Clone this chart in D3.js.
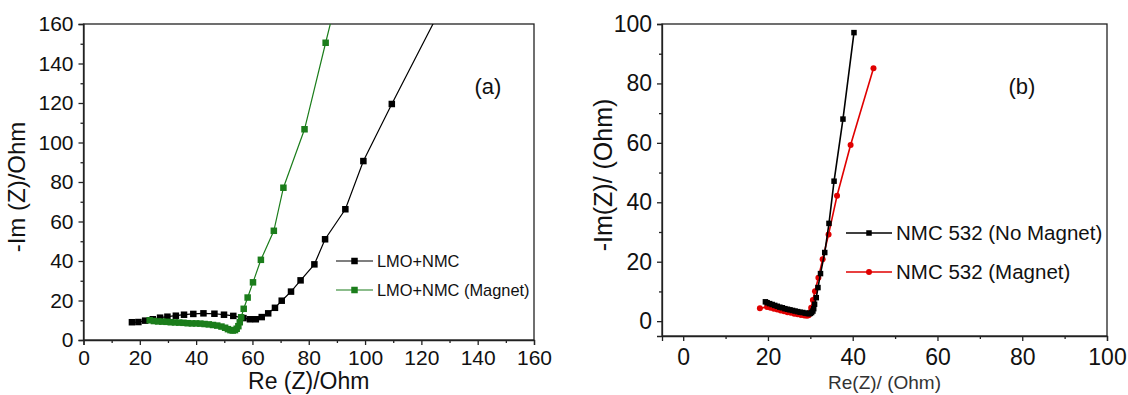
<!DOCTYPE html>
<html>
<head lang="en">
  <meta charset="UTF-8">
  <title>Impedance spectra</title>
</head>
<style>
  body { margin: 0; background: #fff; }
  svg text { font-family: "Liberation Sans", Arial, sans-serif; fill: #111; }
  .axis path, .axis line { stroke: #222; stroke-width: 1.3; }
  .frame { fill: none; stroke: #222; stroke-width: 1.3; }
</style>
<body>

<svg id="chart" width="1128" height="395"></svg>

<script src="https://cdn.jsdelivr.net/npm/d3@7"></script>
<script>
  // panel (a)
  var lmoX = [17.2, 19.5, 21.9, 24.6, 27.2, 29.8, 32.8, 35.7, 39.0, 42.6, 46.5, 49.9, 53.2, 56.8, 59.1, 61.2, 63.3, 65.6, 68.0, 70.4, 73.7, 77.1, 82.0, 85.8, 93.0, 99.4, 109.5, 127];
  var lmoY = [9.0, 9.1, 9.8, 10.5, 11.3, 11.8, 12.3, 12.8, 13.2, 13.5, 13.3, 12.8, 12.2, 11.1, 10.5, 10.5, 11.6, 13.5, 16.3, 19.9, 24.5, 30.2, 38.3, 51.0, 66.2, 90.6, 119.5, 168];
  var lmoMagX = [23.5, 25.0, 26.5, 28.0, 29.5, 31.0, 32.5, 34.0, 35.5, 37.0, 38.5, 40.0, 41.5, 43.0, 44.5, 46.0, 47.5, 49.0, 50.3, 51.3, 52.2, 53.0, 53.8, 54.4, 55.0, 55.5, 56.0, 56.9, 58.3, 60.2, 63.0, 67.6, 71.0, 78.5, 86.0, 92];
  var lmoMagY = [10.0, 9.6, 9.4, 9.3, 9.2, 9.0, 8.9, 8.8, 8.7, 8.5, 8.4, 8.4, 8.3, 8.1, 7.9, 7.6, 7.3, 6.8, 6.2, 5.5, 5.0, 4.8, 5.0, 5.7, 7.0, 9.0, 11.5, 15.8, 21.5, 29.2, 40.6, 55.3, 77.1, 106.7, 150.5, 185];

  // panel (b)
  var nmcX = [19.4, 19.8, 20.4, 21.0, 21.6, 22.2, 22.8, 23.4, 24.0, 24.6, 25.2, 25.8, 26.4, 27.0, 27.6, 28.2, 28.8, 29.3, 29.7, 30.0, 30.3, 30.6, 30.8, 31.0, 31.4, 31.8, 32.4, 33.4, 34.4, 35.6, 37.7, 40.3];
  var nmcY = [6.5, 6.2, 5.9, 5.6, 5.3, 5.0, 4.7, 4.5, 4.2, 4.0, 3.8, 3.6, 3.4, 3.2, 3.0, 2.9, 2.7, 2.6, 2.5, 2.6, 2.9, 3.4, 4.2, 5.7, 7.9, 11.3, 16.0, 23.1, 32.9, 47.1, 68.0, 97.1];
  var nmcMagX = [18.1, 19.8, 20.6, 21.4, 22.2, 23.0, 23.8, 24.6, 25.4, 26.2, 27.0, 27.8, 28.6, 29.2, 29.6, 29.9, 30.2, 30.6, 31.1, 31.9, 32.9, 34.3, 36.3, 39.5, 44.9];
  var nmcMagY = [4.3, 4.8, 4.5, 4.2, 3.9, 3.6, 3.3, 3.0, 2.8, 2.5, 2.3, 2.1, 1.9, 1.8, 2.0, 3.0, 4.5, 7.1, 10.1, 14.6, 20.8, 29.2, 42.2, 59.3, 85.1];

  var ticksA = [0, 20, 40, 60, 80, 100, 120, 140, 160];
  var minorA = [10, 30, 50, 70, 90, 110, 130, 150];
  var ticksB = [0, 20, 40, 60, 80, 100];
  var minorB = [10, 30, 50, 70, 90];

  var svg = d3.select('#chart');

  function zip(xs, ys) {
    return xs.map(function (x, i) { return [x, ys[i]]; });
  }

  function panel(o) {
    var x = d3.scaleLinear().domain(o.xDomain).range(o.xRange);
    var y = d3.scaleLinear().domain(o.yDomain).range(o.yRange);
    var g = svg.append('g');

    g.append('clipPath').attr('id', o.id + '-clip')
      .append('rect')
      .attr('x', o.xRange[0]).attr('y', o.yRange[1])
      .attr('width', o.xRange[1] - o.xRange[0])
      .attr('height', o.yRange[0] - o.yRange[1]);

    // axes
    var xa = g.append('g').attr('class', 'axis')
      .attr('transform', 'translate(0,' + o.yRange[0] + ')')
      .call(d3.axisBottom(x).tickValues(o.ticks).tickSize(5).tickPadding(o.xPad));
    xa.selectAll('text').style('font-size', o.tickFont + 'px');
    g.append('g').attr('class', 'axis')
      .attr('transform', 'translate(0,' + o.yRange[0] + ')')
      .call(d3.axisBottom(x).tickValues(o.minor).tickSize(3).tickFormat(''))
      .select('.domain').remove();

    var ya = g.append('g').attr('class', 'axis')
      .attr('transform', 'translate(' + o.xRange[0] + ',0)')
      .call(d3.axisLeft(y).tickValues(o.ticks).tickSize(5).tickPadding(o.yPad));
    ya.selectAll('text').style('font-size', o.tickFont + 'px');
    g.append('g').attr('class', 'axis')
      .attr('transform', 'translate(' + o.xRange[0] + ',0)')
      .call(d3.axisLeft(y).tickValues(o.minor).tickSize(3).tickFormat(''))
      .select('.domain').remove();

    g.append('rect').attr('class', 'frame')
      .attr('x', o.xRange[0]).attr('y', o.yRange[1])
      .attr('width', o.xRange[1] - o.xRange[0])
      .attr('height', o.yRange[0] - o.yRange[1]);

    // titles
    g.append('text')
      .attr('x', (o.xRange[0] + o.xRange[1]) / 2).attr('y', o.xTitleY)
      .attr('text-anchor', 'middle')
      .style('font-size', o.xTitleFont + 'px')
      .style('fill', o.xTitleColor || '#111')
      .text(o.xTitle);
    g.append('text')
      .attr('transform', 'translate(' + o.yTitleX + ',' + o.yTitleMid + ') rotate(-90)')
      .attr('text-anchor', 'middle')
      .style('font-size', o.yTitleFont + 'px')
      .text(o.yTitle);
    g.append('text')
      .attr('x', o.tagX).attr('y', o.tagY)
      .attr('text-anchor', 'middle')
      .style('font-size', '22px')
      .text(o.tag);

    // series
    var plot = g.append('g').attr('clip-path', 'url(#' + o.id + '-clip)');
    var line = d3.line().x(function (d) { return x(d[0]); }).y(function (d) { return y(d[1]); });

    o.series.forEach(function (s) {
      var pts = zip(s.xs, s.ys);
      plot.append('path').datum(pts)
        .attr('d', line)
        .attr('fill', 'none')
        .attr('stroke', s.color)
        .attr('stroke-width', s.width);
      drawMarks(plot, pts.map(function (p) { return [x(p[0]), y(p[1])]; }), s);
    });

    // legend
    o.legend.forEach(function (s, i) {
      var ly = o.legY + i * o.legGap;
      g.append('line')
        .attr('x1', o.legX).attr('x2', o.legX + o.legLen)
        .attr('y1', ly).attr('y2', ly)
        .attr('stroke', s.color).attr('stroke-width', s.width);
      drawMarks(g, [[o.legX + o.legLen / 2, ly]], s);
      g.append('text')
        .attr('x', o.legX + o.legLen + 4).attr('y', ly)
        .attr('dy', '0.35em')
        .style('font-size', o.legFont + 'px')
        .text(s.name);
    });
  }

  function drawMarks(parent, pts, s) {
    if (s.shape === 'circle') {
      parent.selectAll(null).data(pts).enter().append('circle')
        .attr('cx', function (d) { return d[0]; })
        .attr('cy', function (d) { return d[1]; })
        .attr('r', s.size / 2)
        .attr('fill', s.color);
    } else {
      parent.selectAll(null).data(pts).enter().append('rect')
        .attr('x', function (d) { return d[0] - s.size / 2; })
        .attr('y', function (d) { return d[1] - s.size / 2; })
        .attr('width', s.size).attr('height', s.size)
        .attr('fill', s.color);
    }
  }

  var lmo = { name: 'LMO+NMC', xs: lmoX, ys: lmoY, color: '#000', width: 1.2, shape: 'square', size: 6.5 };
  var lmoMag = { name: 'LMO+NMC (Magnet)', xs: lmoMagX, ys: lmoMagY, color: '#1b7d1b', width: 1.2, shape: 'square', size: 6.5 };
  var nmc = { name: 'NMC 532 (No Magnet)', xs: nmcX, ys: nmcY, color: '#000', width: 1.6, shape: 'square', size: 5.5 };
  var nmcMag = { name: 'NMC 532 (Magnet)', xs: nmcMagX, ys: nmcMagY, color: '#e00000', width: 1.6, shape: 'circle', size: 6 };

  panel({
    id: 'a', xDomain: [0, 160], yDomain: [0, 160],
    xRange: [83.5, 534], yRange: [340, 24],
    ticks: ticksA, minor: minorA, tickFont: 21, xPad: 5, yPad: 5,
    xTitle: 'Re (Z)/Ohm', xTitleY: 389, xTitleFont: 23,
    yTitle: '-Im (Z)/Ohm', yTitleX: 25, yTitleMid: 187, yTitleFont: 24,
    tag: '(a)', tagX: 488, tagY: 94,
    series: [lmo, lmoMag], legend: [lmo, lmoMag],
    legX: 336, legY: 261, legGap: 29, legLen: 37, legFont: 16.4
  });

  panel({
    id: 'b', xDomain: [-5, 100], yDomain: [-5, 100],
    xRange: [662, 1107], yRange: [336, 24],
    ticks: ticksB, minor: minorB, tickFont: 23, xPad: 8, yPad: 5,
    xTitle: 'Re(Z)/ (Ohm)', xTitleY: 389, xTitleFont: 19, xTitleColor: '#333',
    yTitle: '-Im(Z)/ (Ohm)', yTitleX: 612, yTitleMid: 175, yTitleFont: 25,
    tag: '(b)', tagX: 1022, tagY: 94,
    series: [nmcMag, nmc], legend: [nmc, nmcMag],
    legX: 846, legY: 233, legGap: 39, legLen: 46, legFont: 20.5
  });
</script>
</body>
</html>
